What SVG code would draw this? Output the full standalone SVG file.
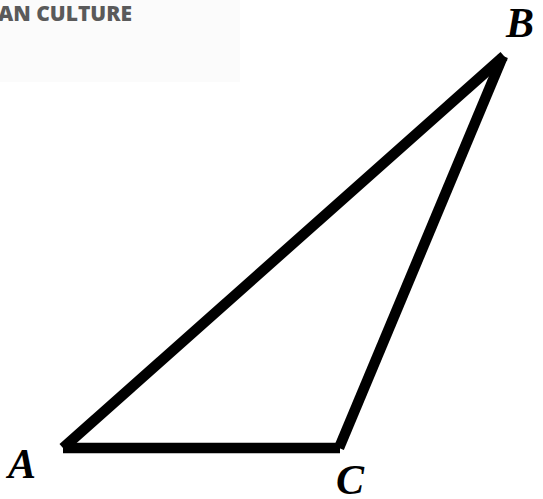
<svg xmlns="http://www.w3.org/2000/svg" width="543" height="499" viewBox="0 0 543 499">
<style>
.edge{stroke:#000;stroke-width:10.5;fill:none;stroke-linecap:butt;stroke-linejoin:miter}
.lbl{font-family:"Liberation Serif","Times New Roman",serif;font-style:italic;font-weight:bold;font-size:42px;fill:#000}
.wm{font-family:"Open Sans","DejaVu Sans",sans-serif;font-weight:800;font-size:21px;fill:#5a5a5a}
</style>
<rect x="0" y="0" width="543" height="499" fill="#fff"/>
<g id="watermark">
<rect x="0" y="0" width="240" height="82" fill="#fbfbfb"/>
<text class="wm" x="-2" y="21">AN CULTURE</text>
</g>
<g id="connectors">
<line class="edge" x1="63" y1="448" x2="340" y2="448"/>
<line class="edge" x1="63" y1="448" x2="504" y2="56"/>
<line class="edge" x1="339" y1="448" x2="503" y2="56"/>
</g>
<g id="node-A"><text class="lbl" x="8" y="478">A</text></g>
<g id="node-B"><text class="lbl" x="506" y="37">B</text></g>
<g id="node-C"><text class="lbl" x="336" y="494">C</text></g>
</svg>
